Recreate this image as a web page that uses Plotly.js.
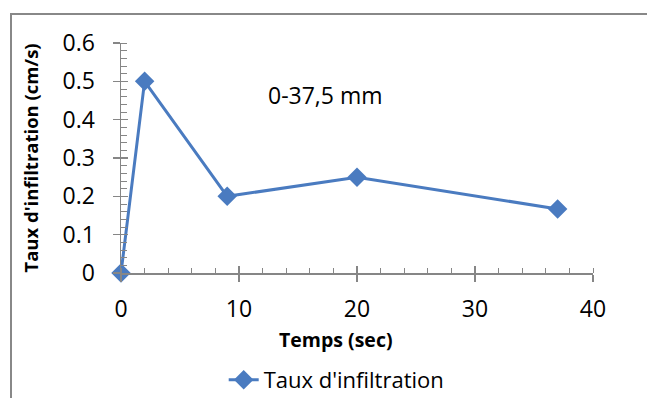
<!DOCTYPE html>
<html>
<head>
<meta charset="utf-8">
<script src="https://cdn.plot.ly/plotly-3.0.1.min.js"></script>
<style>
html,body{margin:0;padding:0;background:#fff;overflow:hidden;}
#frame{position:absolute;left:10px;top:13px;width:700px;height:450px;border:2px solid #888;}
#chart{position:absolute;left:0;top:0;width:647px;height:398px;}
</style>
</head>
<body>
<div id="frame"></div>
<div id="chart"></div>
<script>
var temps = [0, 2, 9, 20, 37];
var taux = [0, 0.5, 0.2, 0.25, 0.167];
var seriesName = "Taux d'infiltration";
var xTitle = "Temps (sec)";
var yTitle = "Taux d'infiltration (cm/s)";
var noteText = "0-37,5 mm";

var blue = '#4a7bc0';
var grey = '#868686';
var font = 'Open Sans, sans-serif';

var trace = {
  x: temps, y: taux, type: 'scatter', mode: 'lines+markers', name: seriesName,
  line: {color: blue, width: 3}, cliponaxis: false,
  marker: {symbol: 'diamond', size: 15, color: blue}
};
var dummy = {x: [0], y: [0], xaxis: 'x2', yaxis: 'y2', mode: 'markers', marker: {opacity: 0}, showlegend: false, hoverinfo: 'skip'};

var layout = {
  width: 647, height: 398,
  margin: {l: 121, r: 54, t: 43, b: 125, autoexpand: false},
  paper_bgcolor: 'rgba(0,0,0,0)', plot_bgcolor: 'rgba(0,0,0,0)',
  font: {family: font, color: '#000', size: 20},
  showlegend: true,
  legend: {orientation: 'h', x: 0.457, xanchor: 'center', y: -0.465, yanchor: 'middle', font: {size: 22, family: font}},
  xaxis: {
    range: [0, 40], dtick: 10, tick0: 0, showgrid: false, zeroline: false,
    showline: true, linecolor: grey, linewidth: 1.5,
    ticks: 'outside', ticklen: 7, tickcolor: grey, tickwidth: 1.5,
    minor: {dtick: 2, ticks: 'inside', ticklen: 5, tickcolor: grey, tickwidth: 1, showgrid: false},
    tickfont: {size: 23, family: font}, ticklabelstandoff: 8
  },
  yaxis: {
    range: [0, 0.6], dtick: 0.1, tick0: 0, showgrid: false, zeroline: false,
    showline: true, linecolor: grey, linewidth: 1.5,
    ticks: 'outside', ticklen: 7, tickcolor: grey, tickwidth: 1.5,
    minor: {dtick: 0.02, ticks: 'inside', ticklen: 6, tickcolor: grey, tickwidth: 1, showgrid: false},
    tickfont: {size: 23, family: font}, ticklabelstandoff: 13,
    title: {text: '<b>' + yTitle + '</b>', font: {size: 18.5}, standoff: 19}
  },
  xaxis2: {overlaying: 'x', matches: 'x', anchor: 'y', range: [0, 40], dtick: 10, tick0: 0, showgrid: false, zeroline: false,
    showline: false, ticks: 'inside', ticklen: 7, tickcolor: grey, tickwidth: 1.5, showticklabels: false},
  yaxis2: {overlaying: 'y', matches: 'y', anchor: 'x', range: [0, 0.6], dtick: 0.1, tick0: 0, showgrid: false, zeroline: false,
    showline: false, ticks: 'inside', ticklen: 7, tickcolor: grey, tickwidth: 1.5, showticklabels: false},
  annotations: [
    {x: 17.3, y: 0.464, xref: 'x', yref: 'y', text: noteText, showarrow: false, font: {size: 23, family: font}},
    {x: 0.455, y: -0.291, xref: 'paper', yref: 'paper', xanchor: 'center', yanchor: 'middle', text: '<b>' + xTitle + '</b>', showarrow: false, font: {size: 19.5, family: font}}
  ]
};

Plotly.newPlot('chart', [trace, dummy], layout, {displayModeBar: false, staticPlot: true});
</script>
</body>
</html>
